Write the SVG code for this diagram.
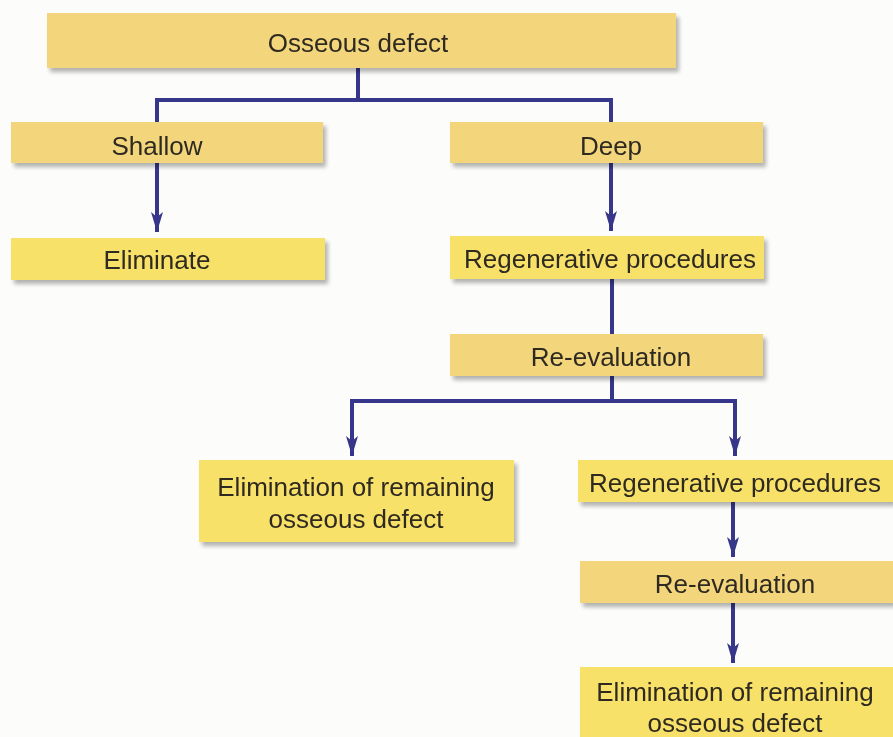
<svg xmlns="http://www.w3.org/2000/svg" width="893" height="737" viewBox="0 0 893 737">
<defs>
<style>
.bA{fill:#F3D67C}
.bB{fill:#F8E168}
.t{font-family:"Liberation Sans",Arial,sans-serif;font-size:26px;fill:#2E2A22;text-anchor:middle}
.c{fill:none;stroke:#36378A;stroke-width:4;stroke-linecap:square}
</style>
<filter id="sh" x="-5%" y="-20%" width="110%" height="150%">
<feGaussianBlur in="SourceAlpha" stdDeviation="2"/>
<feOffset dx="3" dy="4" result="b"/>
<feComponentTransfer><feFuncA type="linear" slope="0.3"/></feComponentTransfer>
<feMerge><feMergeNode/><feMergeNode in="SourceGraphic"/></feMerge>
</filter>
<marker id="ad" markerUnits="userSpaceOnUse" markerWidth="20" markerHeight="12" refX="18" refY="6" orient="auto" viewBox="0 0 20 12">
<path d="M0,0 L5,6 L0,12 L20,6 Z" fill="#36378A"/>
</marker>
</defs>
<rect width="893" height="737" fill="#FCFCFA"/>
<g id="connectors">
<path class="c" d="M358,68 V100 M157,100 H611 M157,100 V122 M611,100 V122"/>
<path class="c" d="M157,163 V230" marker-end="url(#ad)"/>
<path class="c" d="M611,163 V229" marker-end="url(#ad)"/>
<path class="c" d="M612,279 V334"/>
<path class="c" d="M612,376 V401 M352,401 H735"/>
<path class="c" d="M352,401 V454" marker-end="url(#ad)"/>
<path class="c" d="M735,401 V454" marker-end="url(#ad)"/>
<path class="c" d="M733,502 V555" marker-end="url(#ad)"/>
<path class="c" d="M733,603 V661" marker-end="url(#ad)"/>
</g>
<g id="n-osseous" filter="url(#sh)"><rect class="bA" x="47" y="13" width="629" height="55"/><text class="t" x="358" y="52">Osseous defect</text></g>
<g id="n-shallow" filter="url(#sh)"><rect class="bA" x="11" y="122" width="312" height="41"/><text class="t" x="157" y="155">Shallow</text></g>
<g id="n-deep" filter="url(#sh)"><rect class="bA" x="450" y="122" width="313" height="41"/><text class="t" x="611" y="155">Deep</text></g>
<g id="n-eliminate" filter="url(#sh)"><rect class="bB" x="11" y="238" width="314" height="42"/><text class="t" x="157" y="269">Eliminate</text></g>
<g id="n-regen1" filter="url(#sh)"><rect class="bB" x="450" y="236" width="314" height="43"/><text class="t" x="610" y="268">Regenerative procedures</text></g>
<g id="n-reeval1" filter="url(#sh)"><rect class="bA" x="450" y="334" width="313" height="42"/><text class="t" x="611" y="366">Re-evaluation</text></g>
<g id="n-elim1" filter="url(#sh)"><rect class="bB" x="199" y="460" width="315" height="82"/><text class="t" x="356" y="496">Elimination of remaining</text><text class="t" x="356" y="528">osseous defect</text></g>
<g id="n-regen2" filter="url(#sh)"><rect class="bB" x="578" y="460" width="315" height="42"/><text class="t" x="735" y="492">Regenerative procedures</text></g>
<g id="n-reeval2" filter="url(#sh)"><rect class="bA" x="580" y="561" width="313" height="42"/><text class="t" x="735" y="593">Re-evaluation</text></g>
<g id="n-elim2" filter="url(#sh)"><rect class="bB" x="580" y="667" width="313" height="75"/><text class="t" x="735" y="701">Elimination of remaining</text><text class="t" x="735" y="732">osseous defect</text></g>
</svg>
